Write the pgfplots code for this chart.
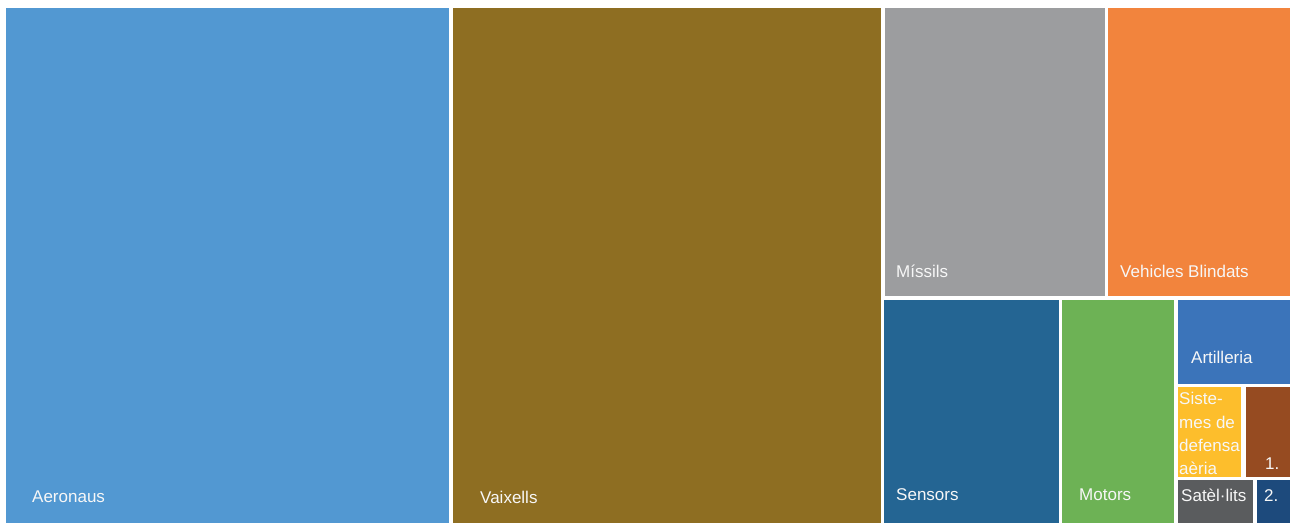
\documentclass[border=0pt]{standalone}
\usepackage{pgfplots}
\pgfplotsset{compat=1.18}
\usepackage{fontspec}
\setmainfont{Liberation Sans}
\definecolor{cAer}{HTML}{5298D2}
\definecolor{cVai}{HTML}{8E6E22}
\definecolor{cMis}{HTML}{9C9D9F}
\definecolor{cVeh}{HTML}{F2843D}
\definecolor{cSen}{HTML}{246593}
\definecolor{cMot}{HTML}{6DB255}
\definecolor{cArt}{HTML}{3B74BA}
\definecolor{cSis}{HTML}{FDBE2C}
\definecolor{cU}{HTML}{964B21}
\definecolor{cSat}{HTML}{5A5C5E}
\definecolor{cD}{HTML}{1D4A7C}
\tikzset{lbl/.style={anchor=west,text=white!94!gray,inner sep=0pt,font=\fontsize{17}{20}\selectfont}}
\begin{document}
\begin{tikzpicture}
\begin{axis}[width=1303pt,height=523pt,scale only axis,
  xmin=0,xmax=1303,ymin=0,ymax=523,y dir=reverse,hide axis,clip=false]
\addplot[fill=white,draw=none] coordinates {(0,0)(1303,0)(1303,523)(0,523)} -- cycle;
% Aeronaus
\addplot[fill=cAer,draw=none] coordinates {(6,8)(449,8)(449,523)(6,523)} -- cycle;
% Vaixells
\addplot[fill=cVai,draw=none] coordinates {(453,8)(881,8)(881,523)(453,523)} -- cycle;
% Missils
\addplot[fill=cMis,draw=none] coordinates {(885,8)(1105,8)(1105,296)(885,296)} -- cycle;
% Vehicles Blindats
\addplot[fill=cVeh,draw=none] coordinates {(1108,8)(1290,8)(1290,296)(1108,296)} -- cycle;
% Sensors
\addplot[fill=cSen,draw=none] coordinates {(884,300)(1059,300)(1059,523)(884,523)} -- cycle;
% Motors
\addplot[fill=cMot,draw=none] coordinates {(1062,300)(1174,300)(1174,523)(1062,523)} -- cycle;
% Artilleria
\addplot[fill=cArt,draw=none] coordinates {(1178,300)(1290,300)(1290,383.5)(1178,383.5)} -- cycle;
% Sistemes de defensa aeria
\addplot[fill=cSis,draw=none] coordinates {(1178,387)(1241,387)(1241,476.5)(1178,476.5)} -- cycle;
% 1.
\addplot[fill=cU,draw=none] coordinates {(1246,387)(1290,387)(1290,476.5)(1246,476.5)} -- cycle;
% Satel.lits
\addplot[fill=cSat,draw=none] coordinates {(1178,480)(1253,480)(1253,523)(1178,523)} -- cycle;
% 2.
\addplot[fill=cD,draw=none] coordinates {(1257,480)(1290,480)(1290,523)(1257,523)} -- cycle;

\node[lbl] at (axis cs:32,497) {Aeronaus};
\node[lbl] at (axis cs:480,497) {Vaixells};
\node[lbl] at (axis cs:896,271) {Míssils};
\node[lbl] at (axis cs:1120,271) {Vehicles Blindats};
\node[lbl] at (axis cs:896,495) {Sensors};
\node[lbl] at (axis cs:1079,495) {Motors};
\node[lbl] at (axis cs:1191,357) {Artilleria};
\node[lbl] at (axis cs:1179,398) {Siste-};
\node[lbl] at (axis cs:1179,422) {mes de};
\node[lbl] at (axis cs:1179,445) {defensa};
\node[lbl] at (axis cs:1179,468) {aèria};
\node[lbl] at (axis cs:1265,464) {1.};
\node[lbl] at (axis cs:1181,495) {Satèl·lits};
\node[lbl] at (axis cs:1264,496) {2.};
\end{axis}
\end{tikzpicture}
\end{document}
